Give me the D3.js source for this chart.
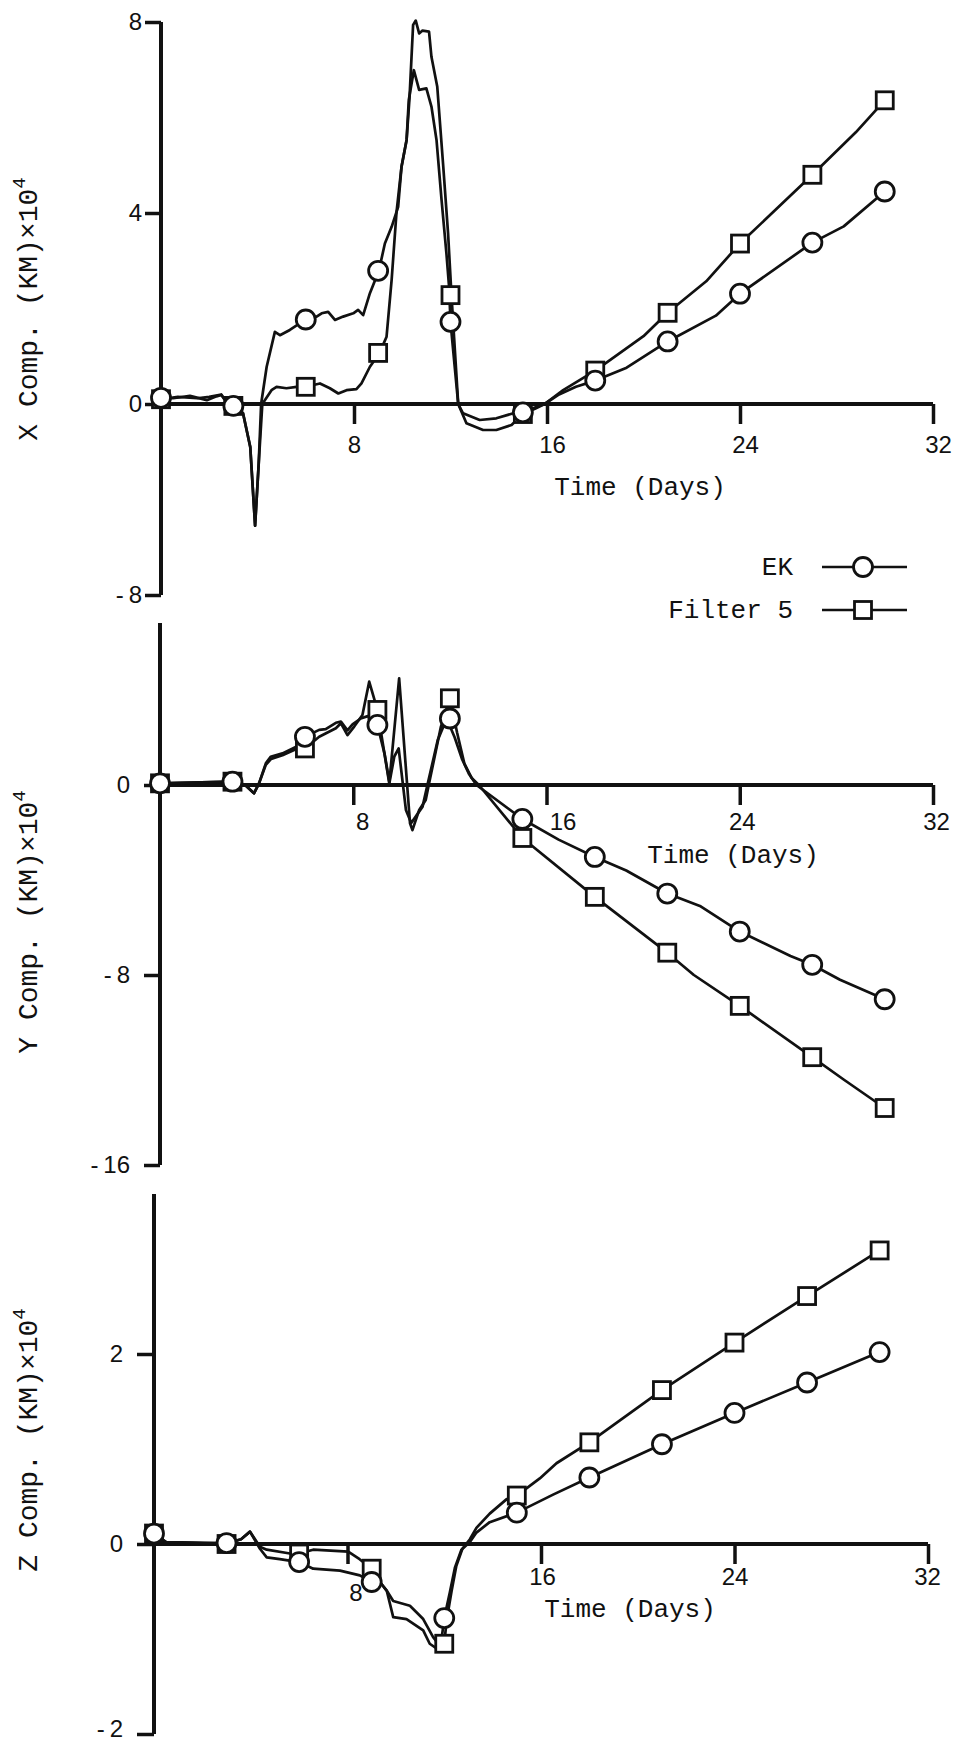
<!DOCTYPE html>
<html>
<head>
<meta charset="utf-8">
<script src="https://cdn.jsdelivr.net/npm/d3@7"></script>
<style>
  body { margin: 0; background: #fff; }
  svg { display: block; }
  .tick text { font-family: "Liberation Sans", Arial, sans-serif; font-size: 24px; fill: #111; }
  .lbl { font-family: "Liberation Mono", "Courier New", monospace; font-size: 26px; fill: #111; }
  .ttl { font-family: "Liberation Mono", "Courier New", monospace; font-size: 28px; fill: #111; }
</style>
</head>
<body>
<svg id="chart" width="957" height="1744"></svg>
<script>
// days where the markers sit
const markerDays = [0, 3, 6, 9, 12, 15, 18, 21, 24, 27, 30];
const xTicks = [8, 16, 24, 32];

// X component
const xcYTicks = [8, 4, 0, -8];
const xcEkMarks = [0.13, -0.08, 1.77, 2.79, 1.72, -0.35, 0.49, 1.31, 2.31, 3.38, 4.45];
const xcF5Marks = [0.10, -0.08, 0.36, 1.07, 2.28, -0.42, 0.70, 1.91, 3.36, 4.80, 6.36];
const xcEkLine = [[0,0.13],[0.5,0.12],[1.2,0.17],[1.9,0.08],[2.3,0.16],[2.5,0.19],[2.7,0.05],[3,-0.08],[3.4,-0.39],[3.7,-1.8],[3.9,-5.1],[4.05,-2.5],[4.15,0],[4.38,0.78],[4.72,1.51],[4.93,1.44],[5.34,1.55],[6,1.77],[6.45,1.83],[6.66,1.9],[6.93,1.93],[7.21,1.76],[7.55,1.83],[7.97,1.9],[8.17,1.97],[8.38,1.86],[8.66,2.32],[9.03,2.79],[9.28,3.36],[9.56,3.71],[9.83,4.13],[9.97,4.97],[10.18,5.53],[10.27,6.36],[10.48,6.99],[10.7,6.58],[11,6.61],[11.21,6.23],[11.42,5.53],[11.63,4.27],[11.83,3.16],[11.94,2.46],[12,1.72],[12.32,0],[12.52,-0.39],[13.21,-0.67],[13.9,-0.6],[14.6,-0.39],[15,-0.35],[15.5,-0.15],[15.9,0],[16.5,0.2],[17.2,0.36],[18,0.49],[19.3,0.76],[21,1.31],[23,1.85],[24,2.31],[27,3.38],[28.3,3.72],[30,4.45]];
const xcF5Line = [[0,0.1],[0.7,0.15],[1.5,0.12],[2,0.15],[2.5,0.2],[2.7,0.05],[3,-0.08],[3.4,-0.39],[3.7,-1.8],[3.9,-5.1],[4.05,-2.5],[4.2,0],[4.58,0.29],[4.79,0.36],[5.2,0.33],[5.62,0.36],[6,0.36],[6.59,0.43],[7,0.33],[7.35,0.22],[7.69,0.29],[8.1,0.31],[8.31,0.43],[8.66,0.78],[9.06,1.07],[9.35,1.41],[9.56,2.6],[9.76,4],[9.97,4.97],[10.18,5.53],[10.3,6.4],[10.45,7.94],[10.56,8.03],[10.7,7.76],[10.84,7.82],[11.11,7.8],[11.21,7.27],[11.45,6.65],[11.7,4.97],[11.9,3.57],[12.04,2.28],[12.32,0],[12.66,-0.81],[13.35,-1.09],[13.9,-1.09],[14.53,-0.88],[15,-0.42],[15.5,-0.2],[15.9,0],[16.67,0.29],[18,0.7],[20,1.42],[21,1.91],[22.6,2.57],[24,3.36],[27,4.8],[28.8,5.69],[30,6.36]];

// Y component
const ycYTicks = [0, -8, -16];
const ycEkMarks = [0.07, 0.14, 2.03, 2.53, 2.8, -1.43, -3.03, -4.57, -6.17, -7.57, -9.02];
const ycF5Marks = [0.07, 0.14, 1.54, 3.16, 3.65, -2.23, -4.71, -7.06, -9.3, -11.46, -13.6];
const ycEkLine = [[0,0.07],[3,0.14],[3.5,0.02],[3.89,-0.35],[4.1,0.07],[4.38,0.91],[4.58,1.19],[5.07,1.33],[5.62,1.6],[6,2.03],[6.59,2.32],[6.86,2.35],[7.28,2.62],[7.49,2.67],[7.76,2.3],[7.97,2.55],[8.31,2.8],[8.6,2.9],[9,2.53],[9.3,1.3],[9.5,0.1],[9.7,1.2],[9.88,1.54],[10.18,-1.05],[10.4,-1.6],[10.87,-0.91],[11.07,0],[11.5,1.9],[11.87,2.8],[12.2,2],[12.5,1.1],[12.8,0.45],[13.1,0],[15,-1.43],[16.5,-2.3],[18,-3.03],[19.3,-3.6],[21,-4.57],[22.35,-5.09],[24,-6.17],[26.1,-7.2],[27,-7.57],[28.15,-8.2],[30,-9.02]];
const ycF5Line = [[0,0.07],[3,0.14],[3.5,0.02],[3.89,-0.35],[4.1,0.07],[4.38,0.85],[4.6,1.1],[5.07,1.25],[5.62,1.5],[6,1.54],[6.59,2.03],[7.28,2.39],[7.49,2.6],[7.76,2.1],[8.04,2.46],[8.38,2.95],[8.66,4.35],[9,3.16],[9.49,0.07],[9.9,4.49],[10.35,-1.61],[10.45,-1.9],[10.73,-1.05],[11,-0.63],[11.14,0.07],[11.63,2.46],[12,3.65],[12.3,2.2],[12.6,0.9],[12.9,0.3],[13.2,0],[15,-2.23],[18,-4.71],[21,-7.06],[22.1,-8],[24,-9.3],[27,-11.46],[28.3,-12.4],[30,-13.6]];

// Z component
const zcYTicks = [2, 0, -2];
const zcEkMarks = [0.11, 0.01, -0.19, -0.4, -0.78, 0.33, 0.7, 1.05, 1.38, 1.7, 2.02];
const zcF5Marks = [0.11, 0, -0.1, -0.26, -1.05, 0.51, 1.07, 1.62, 2.12, 2.61, 3.09];
const zcEkLine = [[0,0.11],[0.5,0.02],[3,0.01],[3.6,0.05],[3.97,0.13],[4.38,-0.05],[4.66,-0.14],[5.2,-0.16],[6,-0.19],[6.58,-0.26],[7.69,-0.28],[8.51,-0.33],[9,-0.4],[9.34,-0.4],[9.62,-0.49],[9.89,-0.6],[10.58,-0.65],[11.13,-0.79],[11.54,-0.98],[11.85,-1.08],[12,-0.78],[12.23,-0.51],[12.44,-0.25],[12.71,-0.06],[13.06,0.02],[13.33,0.12],[13.88,0.23],[15,0.33],[16.5,0.52],[18,0.7],[21,1.05],[24,1.38],[27,1.7],[30,2.02]];
const zcF5Line = [[0,0.11],[0.5,0.02],[3,0],[3.6,0.05],[3.97,0.13],[4.38,-0.03],[4.66,-0.06],[5.62,-0.1],[6,-0.1],[6.58,-0.06],[8.03,-0.08],[8.5,-0.16],[9,-0.26],[9.34,-0.4],[9.62,-0.49],[9.89,-0.77],[10.44,-0.79],[11.13,-0.91],[11.4,-1.05],[11.8,-1.12],[12,-1.05],[12.1,-0.8],[12.3,-0.5],[12.5,-0.23],[12.75,-0.05],[13.06,0.05],[13.33,0.17],[13.88,0.32],[14.57,0.47],[15,0.51],[15.95,0.69],[16.64,0.85],[18,1.07],[21,1.62],[24,2.12],[27,2.61],[30,3.09]];

const legendNames = ['EK', 'Filter 5'];

const svg = d3.select('#chart');
const ink = '#111';

// placement of each panel (pixels)
const panels = [
  { ek: xcEkLine, f5: xcF5Line, ekM: xcEkMarks, f5M: xcF5Marks, yTicks: xcYTicks, title: 'X Comp. (KM)×10',
    x0: 161, x32: 933, yDomain: [-8, 0, 8], yRange: [595, 404, 22], yTop: 22,
    yTick: 16, yPad: 3, xPad: 12, xDx: [0, 5, 5, 5], xDy: [0, 0, 0, 0],
    timeX: 640, timeY: 495, titleX: 37, titleY: 309 },
  { ek: ycEkLine, f5: ycF5Line, ekM: ycEkMarks, f5M: ycF5Marks, yTicks: ycYTicks, title: 'Y Comp. (KM)×10',
    x0: 160, x32: 933, yDomain: [-16, 0], yRange: [1165, 785], yTop: 623,
    yTick: 16, yPad: 14, xPad: 8, xDx: [9, 16, 2, 3], xDy: [0, 0, 0, 0],
    timeX: 733, timeY: 863, titleX: 37, titleY: 922 },
  { ek: zcEkLine, f5: zcF5Line, ekM: zcEkMarks, f5M: zcF5Marks, yTicks: zcYTicks, title: 'Z Comp. (KM)×10',
    x0: 154, x32: 928, yDomain: [-2, 2], yRange: [1734, 1354], yTop: 1194,
    yTick: 17, yPad: 14, xPad: 4, xDx: [8, 1, 0, -1], xDy: [16, 0, 0, 0],
    timeX: 630, timeY: 1617, titleX: 37, titleY: 1440 }
];

const fmt = d => d < 0 ? '-\u2009' + Math.abs(d) : String(d);

panels.forEach(p => {
  const x = d3.scaleLinear().domain([0, 32]).range([p.x0, p.x32]);
  const y = d3.scaleLinear().domain(p.yDomain).range(p.yRange);
  const g = svg.append('g');

  // y axis ticks and labels
  const ya = g.append('g')
    .attr('transform', `translate(${x(0)},0)`)
    .call(d3.axisLeft(y).tickValues(p.yTicks).tickSize(p.yTick).tickPadding(p.yPad).tickFormat(fmt));
  ya.select('.domain').remove();
  ya.selectAll('.tick line').attr('stroke', ink).attr('stroke-width', 3.5);
  // keep the lowest label inside the page
  ya.selectAll('.tick text').filter(d => y(d) > 1720).attr('dy', '0.1em');

  // x axis ticks and labels
  const xa = g.append('g')
    .attr('transform', `translate(0,${y(0)})`)
    .call(d3.axisBottom(x).tickValues(xTicks).tickSize(20).tickPadding(p.xPad).tickFormat(fmt));
  xa.select('.domain').remove();
  xa.selectAll('.tick line').attr('stroke', ink).attr('stroke-width', 3.5);
  xa.selectAll('.tick text')
    .attr('dx', (d, i) => p.xDx[i])
    .attr('transform', (d, i) => `translate(0,${p.xDy[i]})`);

  // axis lines
  g.append('line')
    .attr('x1', x(0)).attr('x2', x(0))
    .attr('y1', p.yTop).attr('y2', y(d3.min(p.yTicks)))
    .attr('stroke', ink).attr('stroke-width', 4);
  g.append('line')
    .attr('x1', x(0)).attr('x2', x(32))
    .attr('y1', y(0)).attr('y2', y(0))
    .attr('stroke', ink).attr('stroke-width', 4);

  g.append('text').attr('class', 'lbl')
    .attr('x', p.timeX).attr('y', p.timeY)
    .attr('text-anchor', 'middle')
    .text('Time (Days)');

  const t = g.append('text').attr('class', 'ttl')
    .attr('transform', `translate(${p.titleX},${p.titleY}) rotate(-90)`)
    .attr('text-anchor', 'middle');
  t.append('tspan').text(p.title);
  t.append('tspan').attr('dy', -12).attr('font-size', 19).text('4');

  // series lines
  const line = d3.line().x(d => x(d[0])).y(d => y(d[1]));
  [p.f5, p.ek].forEach(s => {
    g.append('path').datum(s)
      .attr('d', line)
      .attr('fill', 'none')
      .attr('stroke', ink)
      .attr('stroke-width', 2.7)
      .attr('stroke-linejoin', 'round');
  });

  // square markers (Filter 5) under circles (EK)
  g.selectAll('rect.f5').data(p.f5M).enter().append('rect')
    .attr('class', 'f5')
    .attr('x', (d, i) => x(markerDays[i]) - 8.5)
    .attr('y', d => y(d) - 8.5)
    .attr('width', 17).attr('height', 17)
    .attr('fill', '#fff').attr('stroke', ink).attr('stroke-width', 2.8);
  g.selectAll('circle.ek').data(p.ekM).enter().append('circle')
    .attr('class', 'ek')
    .attr('cx', (d, i) => x(markerDays[i]))
    .attr('cy', d => y(d))
    .attr('r', 9.5)
    .attr('fill', '#fff').attr('stroke', ink).attr('stroke-width', 2.8);
});

// legend
const leg = svg.append('g');
legendNames.forEach((name, i) => {
  const cy = 567 + i * 43;
  leg.append('text').attr('class', 'lbl')
    .attr('x', 793).attr('y', cy + 8)
    .attr('text-anchor', 'end')
    .text(name);
  leg.append('line')
    .attr('x1', 822).attr('x2', 907).attr('y1', cy).attr('y2', cy)
    .attr('stroke', ink).attr('stroke-width', 2.6);
  if (i === 0) {
    leg.append('circle').attr('cx', 863).attr('cy', cy).attr('r', 9.5)
      .attr('fill', '#fff').attr('stroke', ink).attr('stroke-width', 2.8);
  } else {
    leg.append('rect').attr('x', 863 - 8.5).attr('y', cy - 8.5)
      .attr('width', 17).attr('height', 17)
      .attr('fill', '#fff').attr('stroke', ink).attr('stroke-width', 2.8);
  }
});
</script>
</body>
</html>
